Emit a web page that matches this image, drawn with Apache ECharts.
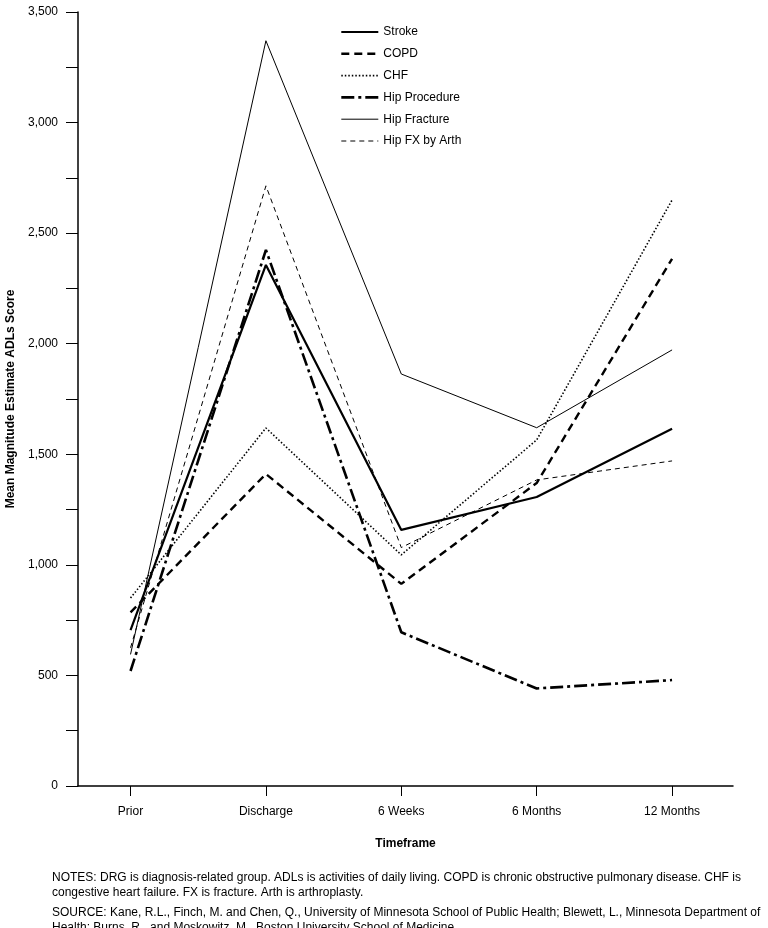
<!DOCTYPE html>
<html>
<head>
<meta charset="utf-8">
<script src="https://cdn.jsdelivr.net/npm/echarts@6/dist/echarts.min.js"></script>
<style>
html,body{margin:0;padding:0;background:#fff;}
#chart{width:768px;height:928px;}
</style>
</head>
<body>
<div id="chart"></div>
<script>
var categories = ['Prior', 'Discharge', '6 Weeks', '6 Months', '12 Months'];
var stroke = [705, 2356, 1158, 1307, 1615];
var copd = [785, 1411, 914, 1370, 2384];
var chf = [850, 1619, 1045, 1565, 2650];
var hipProcedure = [520, 2424, 695, 441, 479];
var hipFracture = [595, 3370, 1863, 1620, 1972];
var hipFxByArth = [625, 2714, 1078, 1384, 1470];
var seriesNames = ['Stroke', 'COPD', 'CHF', 'Hip Procedure', 'Hip Fracture', 'Hip FX by Arth'];
var notesLines = [
  'NOTES: DRG is diagnosis-related group. ADLs is activities of daily living. COPD is chronic obstructive pulmonary disease. CHF is',
  'congestive heart failure. FX is fracture. Arth is arthroplasty.'
];
var sourceLines = [
  'SOURCE: Kane, R.L., Finch, M. and Chen, Q., University of Minnesota School of Public Health; Blewett, L., Minnesota Department of',
  'Health; Burns, R., and Moskowitz, M., Boston University School of Medicine.'
];

var FONT = 'Liberation Sans, Arial, Helvetica, sans-serif';
function pairs(arr){ return arr.map(function(v,i){ return [i, v]; }); }

var styles = [
  {width: 2.2, type: 'solid'},
  {width: 2.4, type: [8, 5]},
  {width: 1.6, type: [1.5, 2]},
  {width: 2.6, type: [13, 4, 3, 4]},
  {width: 1, type: 'solid'},
  {width: 1, type: [5, 4]}
];
var datas = [stroke, copd, chf, hipProcedure, hipFracture, hipFxByArth];

var chart = echarts.init(document.getElementById('chart'), null, {renderer: 'canvas'});
chart.setOption({
  animation: false,
  backgroundColor: '#fff',
  textStyle: {fontFamily: FONT, color: '#000'},
  grid: {left: 78, right: 35, top: 12, bottom: 142, containLabel: false, outerBoundsMode: 'none'},
  legend: {
    orient: 'vertical', left: 335, top: 21,
    itemWidth: 37, itemHeight: 12, itemGap: 9.8,
    itemStyle: {opacity: 0},
    textStyle: {fontFamily: FONT, fontSize: 12, color: '#000'},
    data: seriesNames.map(function(n, i){
      return {name: n, lineStyle: {color: '#000', width: styles[i].width, type: styles[i].type}};
    })
  },
  xAxis: {
    type: 'value', min: -0.388, max: 4.45,
    name: 'Timeframe', nameLocation: 'middle', nameGap: 52,
    nameTextStyle: {fontFamily: FONT, fontSize: 12, fontWeight: 'bold', color: '#000'},
    axisLine: {show: true, onZero: false, lineStyle: {color: '#000', width: 1.5}},
    axisTick: {show: true, length: 10, customValues: [0,1,2,3,4], lineStyle: {color: '#000', width: 1}},
    axisLabel: {show: true, customValues: [0,1,2,3,4], margin: 20, fontSize: 12, fontFamily: FONT, color: '#000',
      formatter: function(v){ return categories[Math.round(v)] || ''; }},
    splitLine: {show: false}
  },
  yAxis: {
    type: 'value', min: 0, max: 3500, interval: 500,
    name: 'Mean Magnitude Estimate ADLs Score', nameLocation: 'middle', nameGap: 61,
    nameTextStyle: {fontFamily: FONT, fontSize: 12, fontWeight: 'bold', color: '#000'},
    axisLine: {show: true, onZero: false, lineStyle: {color: '#000', width: 1.5}},
    axisTick: {show: true, length: 12, lineStyle: {color: '#000', width: 1}},
    minorTick: {show: true, splitNumber: 2, length: 12, lineStyle: {color: '#000', width: 1}},
    axisLabel: {margin: 20, fontSize: 12, fontFamily: FONT, color: '#000',
      formatter: function(v){ return v.toLocaleString('en-US'); }},
    splitLine: {show: false}
  },
  series: datas.map(function(d, i){
    return {
      name: seriesNames[i], type: 'line', data: pairs(d),
      symbol: 'none',
      color: '#000',
      lineStyle: {color: '#000', width: styles[i].width, type: styles[i].type}
    };
  }),
  graphic: [
    {type: 'text', left: 52, top: 870, style: {text: notesLines.join('\n'), fontFamily: FONT, fontSize: 12, lineHeight: 15, fill: '#000'}},
    {type: 'text', left: 52, top: 905, style: {text: sourceLines.join('\n'), fontFamily: FONT, fontSize: 12, lineHeight: 15, fill: '#000'}}
  ]
});
</script>
</body>
</html>
